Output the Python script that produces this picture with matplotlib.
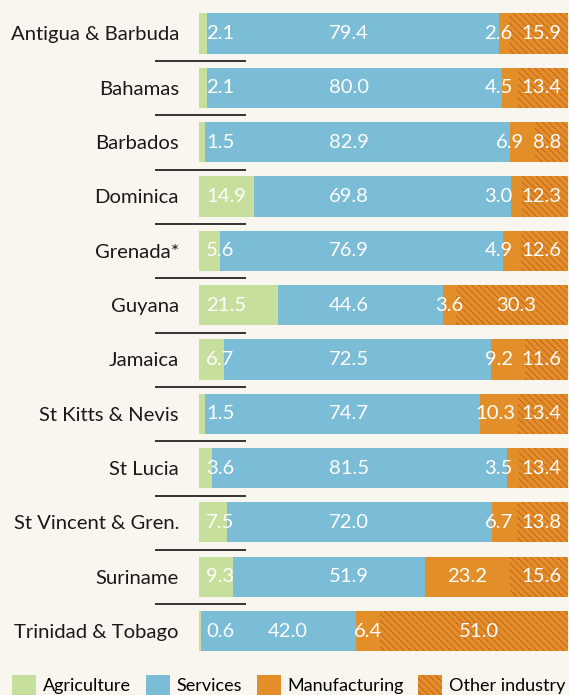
import matplotlib.pyplot as plt
from matplotlib.patches import Patch
import numpy as np

countries = ["Antigua & Barbuda", "Bahamas", "Barbados", "Dominica", "Grenada*",
             "Guyana", "Jamaica", "St Kitts & Nevis", "St Lucia",
             "St Vincent & Gren.", "Suriname", "Trinidad & Tobago"]
agriculture = [2.1, 2.1, 1.5, 14.9, 5.6, 21.5, 6.7, 1.5, 3.6, 7.5, 9.3, 0.6]
services = [79.4, 80.0, 82.9, 69.8, 76.9, 44.6, 72.5, 74.7, 81.5, 72.0, 51.9, 42.0]
manufacturing = [2.6, 4.5, 6.9, 3.0, 4.9, 3.6, 9.2, 10.3, 3.5, 6.7, 23.2, 6.4]
other_industry = [15.9, 13.4, 8.8, 12.3, 12.6, 30.3, 11.6, 13.4, 13.4, 13.8, 15.6, 51.0]

# colori
bg = "#f9f6ef"
c_agri = "#c6df9d"
c_serv = "#7bbcd6"
c_manu = "#e28f2a"
c_hatch = "#c8621e"

plt.rcParams['font.family'] = ['Lato', 'DejaVu Sans']
plt.rcParams['hatch.linewidth'] = 0.7
fs = 14.6
fs_leg = 13

fig = plt.figure(figsize=(5.69, 6.95), dpi=100, facecolor=bg)
ax = fig.add_axes([199 / 569, 1 - 658.2 / 695, 368.7 / 569, 651.9 / 695])
ax.set_facecolor(bg)

# normalizza a 100%
data = np.array([agriculture, services, manufacturing, other_industry], dtype=float)
data = data / data.sum(axis=0) * 100
y = np.arange(len(countries))
h = 0.74

left = np.zeros(len(countries))
ax.barh(y, data[0], h, left=left, color=c_agri, linewidth=0)
left += data[0]
ax.barh(y, data[1], h, left=left, color=c_serv, linewidth=0)
left += data[1]
ax.barh(y, data[2], h, left=left, color=c_manu, linewidth=0)
left += data[2]
ax.barh(y, data[3], h, left=left, color=c_manu, edgecolor=c_hatch,
        linewidth=0, hatch='\\\\\\\\\\')

# etichette dei valori
for i in range(len(countries)):
    a, s, m, o = data[:, i]
    ax.annotate(f"{agriculture[i]:.1f}", xy=(0, i), xytext=(5, 0),
                textcoords='offset points', ha='left', va='center',
                color='white', fontsize=fs)
    xs = 40.7 if a + s >= 50 else a + s / 2 + 2.5
    ax.text(xs, i, f"{services[i]:.1f}", ha='center', va='center',
            color='white', fontsize=fs)
    if other_industry[i] >= 25:
        t_o = ax.text(a + s + m + o / 2 + 1.3, i, f"{other_industry[i]:.1f}",
                      ha='center', va='center', color='white', fontsize=fs)
    else:
        t_o = ax.annotate(f"{other_industry[i]:.1f}", xy=(100, i), xytext=(-4.3, 0),
                          textcoords='offset points', ha='right', va='center',
                          color='white', fontsize=fs)
    if manufacturing[i] >= 10 or other_industry[i] >= 25:
        dx = -1 if manufacturing[i] < 15 and other_industry[i] < 25 else 0
        ax.text(a + s + m / 2 + dx, i, f"{manufacturing[i]:.1f}", ha='center',
                va='center', color='white', fontsize=fs)
    else:
        ax.annotate(f"{manufacturing[i]:.1f}", xy=(0, 0.5), xycoords=t_o,
                    xytext=(-6.5, 0), textcoords='offset points', ha='right',
                    va='center', color='white', fontsize=fs)

# linee di separazione
for i in range(len(countries) - 1):
    ax.plot([-11.9, 12.7], [i + 0.51, i + 0.51], color='black', lw=1.1,
            clip_on=False, solid_capstyle='butt')

ax.set_xlim(0, 100)
ax.set_ylim(len(countries) - 0.5, -0.5)
ax.set_yticks(y)
ax.set_yticklabels(countries, fontsize=fs, color='#1a1a1a')
ax.tick_params(axis='y', length=0, pad=14.4)
ax.set_xticks([])
for sp in ax.spines.values():
    sp.set_visible(False)

handles = [Patch(facecolor=c_agri, linewidth=0),
           Patch(facecolor=c_serv, linewidth=0),
           Patch(facecolor=c_manu, linewidth=0),
           Patch(facecolor=c_manu, edgecolor=c_hatch, linewidth=0, hatch='\\\\\\\\\\')]
fig.legend(handles, ["Agriculture", "Services", "Manufacturing", "Other industry"],
           loc='center left', bbox_to_anchor=(12 / 569, 1 - 685 / 695), ncol=4,
           frameon=False, fontsize=fs_leg, handlelength=1.33, handleheight=1.33,
           handletextpad=0.39, columnspacing=0.8, borderpad=0, borderaxespad=0)

fig.savefig("out.png", dpi=100, facecolor=bg)
